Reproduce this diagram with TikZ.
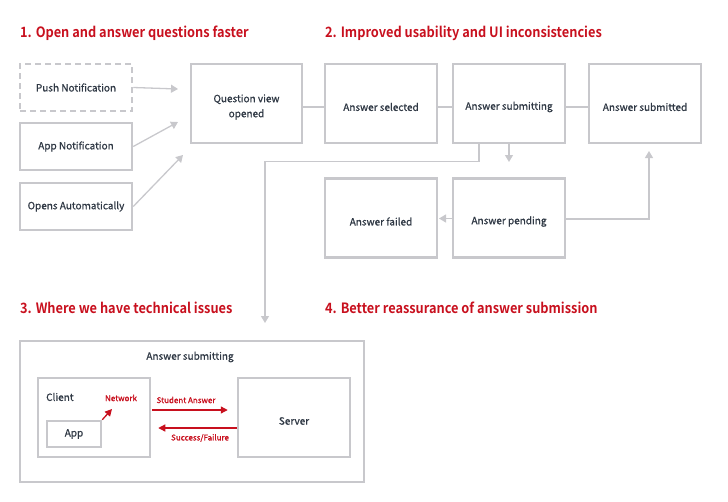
\documentclass[tikz,border=0pt]{standalone}
\usepackage{fontspec}
\setmainfont{Noto Sans CJK KR}
\newfontfamily\boxfont{Noto Sans CJK KR}[FakeBold=0.9]
\newfontfamily\titlefont{Noto Sans CJK KR Bold}[FakeStretch=0.9]
\newfontfamily\redfont{Noto Sans CJK KR}[FakeBold=1.2]
\usetikzlibrary{arrows.meta}
\definecolor{boxgray}{RGB}{200,200,204}
\definecolor{txt}{RGB}{47,56,68}
\definecolor{accent}{RGB}{200,16,30}
\begin{document}
\begin{tikzpicture}[x=1pt,y=-1pt,
  btext/.style={inner sep=0pt, align=center, text=txt, font=\boxfont\fontsize{10}{15}\selectfont},
  box/.style={draw=boxgray, line width=2.5pt, minimum width=112pt, minimum height=79pt, inner sep=0pt, align=center, text=txt, font=\boxfont\fontsize{10}{15}\selectfont},
  tbox/.style={box, label={[btext,yshift=-3.5pt]center:#1}},
  smallbox/.style={box, minimum height=47pt},
  conn/.style={draw=boxgray, line width=1.3pt},
  garrow/.style={conn, -{Triangle[length=7pt,width=8pt]}},
  rarrow/.style={draw=accent, line width=1.3pt, -{Triangle[length=7pt,width=7pt]}},
  title/.style={anchor=base west, inner sep=0pt, text=accent, font=\titlefont\fontsize{14.2}{18}\selectfont},
  rlabel/.style={inner sep=0pt, text=accent, font=\redfont\fontsize{8}{10}\selectfont},
  plain/.style={inner sep=0pt, text=txt, font=\boxfont\fontsize{10}{13}\selectfont}]
\useasboundingbox (0,0) rectangle (728,501);
% titles
\node[title] (t1) at (20,37.5) {1. Open and answer questions faster};
\node[title] (t2) at (325,37.5) {2. Improved usability and UI inconsistencies};
\node[title] (t3) at (20,313) {3. Where we have technical issues};
\node[title] (t4) at (325,313) {4. Better reassurance of answer submission};
% section 1/2 boxes
\node[smallbox, dashed, dash pattern=on 6pt off 4pt] (push) at (76,87.5) {Push Notification};
\node[smallbox] (appn) at (76,146.5) {App Notification};
\node[smallbox] (opens) at (76,206.5) {Opens Automatically};
\node[tbox={Question view\\opened}, minimum width=111pt] (qvo) at (246.5,103.5) {};
\node[tbox={Answer selected}] (asel) at (381,103.5) {};
\node[tbox={Answer submitting}] (asub) at (509,103.5) {};
\node[tbox={Answer submitted}] (adone) at (645,103.5) {};
\node[tbox={Answer failed}] (afail) at (381,218) {};
\node[tbox={Answer pending}] (apend) at (509,218) {};
% free ends
\coordinate (q1) at (178,89);
\coordinate (q2) at (178,122);
\coordinate (q3) at (183,155);
\coordinate (pd) at (509,162);
\coordinate (s3) at (265,323);
\coordinate (fl) at (439,218.5);
\coordinate (up) at (649,151);
% connectors
\draw[garrow] (push.east) -- (q1);
\draw[garrow] (appn.east) -- (q2);
\draw[garrow] (opens.east) -- (q3);
\draw[conn] ([yshift=-3.5pt]qvo.east) -- ([yshift=-3.5pt]asel.west);
\draw[conn] ([yshift=-3.5pt]asel.east) -- ([yshift=-3.5pt]asub.west);
\draw[conn] ([yshift=-3.5pt]asub.east) -- ([yshift=-3.5pt]adone.west);
\draw[garrow] (asub.south) -- (pd);
\draw[garrow] ([xshift=-30pt]asub.south) -- ++(0,17) -| (s3);
\draw[garrow] ([yshift=-0.5pt]apend.west) -- (fl);
\draw[garrow] ([yshift=-1pt]apend.east) -| (up);
% section 3
\node[box, minimum width=344pt, minimum height=141pt] (outer) at (192,411.5) {};
\node[plain] (outerlbl) at (190,357) {Answer submitting};
\node[box] (client) at (94,417.5) {};
\node[plain, anchor=west] (clientlbl) at (46,397) {Client};
\node[box, minimum width=54pt, minimum height=26pt] (app) at (74,434) {App};
\node[rlabel] (netlbl) at (121,398) {Network};
\coordinate (net) at (112,409);
\draw[rarrow] (app.north east) -- (net);
\node[tbox={Server}] (server) at (294,417.5) {};
\draw[rarrow] ([xshift=1pt,yshift=7.5pt]client.east) -- ([xshift=-9pt,yshift=7.5pt]server.west);
\draw[rarrow] ([yshift=-10.5pt]server.west) -- ([xshift=7pt,yshift=-10.5pt]client.east);
\node[rlabel] (salbl) at (186,400) {Student Answer};
\node[rlabel] (sflbl) at (200,438) {Success/Failure};
\end{tikzpicture}
\end{document}
